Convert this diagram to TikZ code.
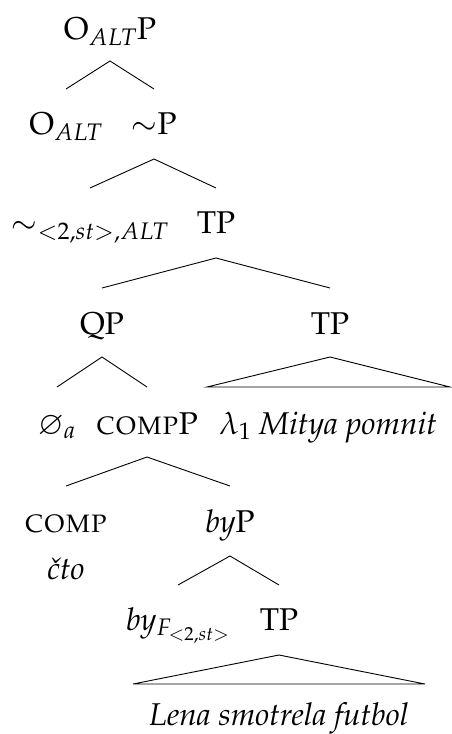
\documentclass[tikz,border=0pt]{standalone}
\usepackage[T1]{fontenc}
\usepackage{mathpazo}
\usepackage{amssymb}
\usetikzlibrary{calc}
\begin{document}
\begin{tikzpicture}[x=1pt,y=1pt,
  lbl/.style={inner sep=0pt, anchor=base, font=\fontsize{31.5}{38}\selectfont},
  br/.style={line width=0.9pt, line join=miter}]
\useasboundingbox (0,0) rectangle (451,-734);
% nodes (centre x, baseline y)
\node[lbl] (root) at (110,-39) {O$_{ALT}$P};
\node[lbl] (oalt) at (66,-134) {O$_{ALT}$};
\node[lbl] (simP) at (154,-134) {$\sim$P};
\node[lbl] (simsub) at (90,-233) {$\sim_{<2,st>,ALT}$};
\node[lbl] (tpa) at (216,-233) {TP};
\node[lbl] (qp) at (102,-334) {QP};
\node[lbl] (tpb) at (330,-334) {TP};
\node[lbl] (empty) at (57,-434) {$\varnothing_a$};
\node[lbl] (compP) at (147,-434) {\textsc{comp}P};
\node[lbl] (lam) at (328,-434) {$\lambda_1$ \textit{Mitya pomnit}};
\node[lbl, text depth=0pt] (comp) at (66,-532) {\textsc{comp}};
\node[lbl] (cto) at (66,-579) {\textit{\v{c}to}};
\node[lbl] (byP) at (230,-532) {\textit{by}P};
\node[lbl] (byF) at (178,-630) {\textit{by}$_{F_{<2,st>}}$};
\node[lbl] (tpc) at (279,-630) {TP};
\node[lbl] (lena) at (279,-725) {\textit{Lena smotrela futbol}};
% branches
\draw[br] ($(oalt.base)+(0,45)$) -- ($(root.base)+(0,-22)$) -- ($(simP.base)+(0,45)$);
\draw[br] ($(simsub.base)+(0,45)$) -- ($(simP.base)+(0,-25)$) -- ($(tpa.base)+(0,45)$);
\draw[br] ($(qp.base)+(0,46)$) -- ($(tpa.base)+(0,-25)$) -- ($(tpb.base)+(0,46)$);
\draw[br] ($(empty.base)+(0,47)$) -- ($(qp.base)+(0,-23)$) -- ($(compP.base)+(0,47)$);
\draw[br] ($(tpb.base)+(0,-23)$) -- ($(lam.base)+(-121,47)$) -- ($(lam.base)+(122,47)$) -- cycle;
\draw[br] ($(comp.base)+(0,46)$) -- ($(compP.base)+(0,-23)$) -- ($(byP.base)+(0,46)$);
\draw[br] ($(byF.base)+(0,45)$) -- ($(byP.base)+(0,-24)$) -- ($(tpc.base)+(0,45)$);
\draw[br] ($(tpc.base)+(0,-25)$) -- ($(lena.base)+(-146,41)$) -- ($(lena.base)+(146,41)$) -- cycle;
\end{tikzpicture}
\end{document}
